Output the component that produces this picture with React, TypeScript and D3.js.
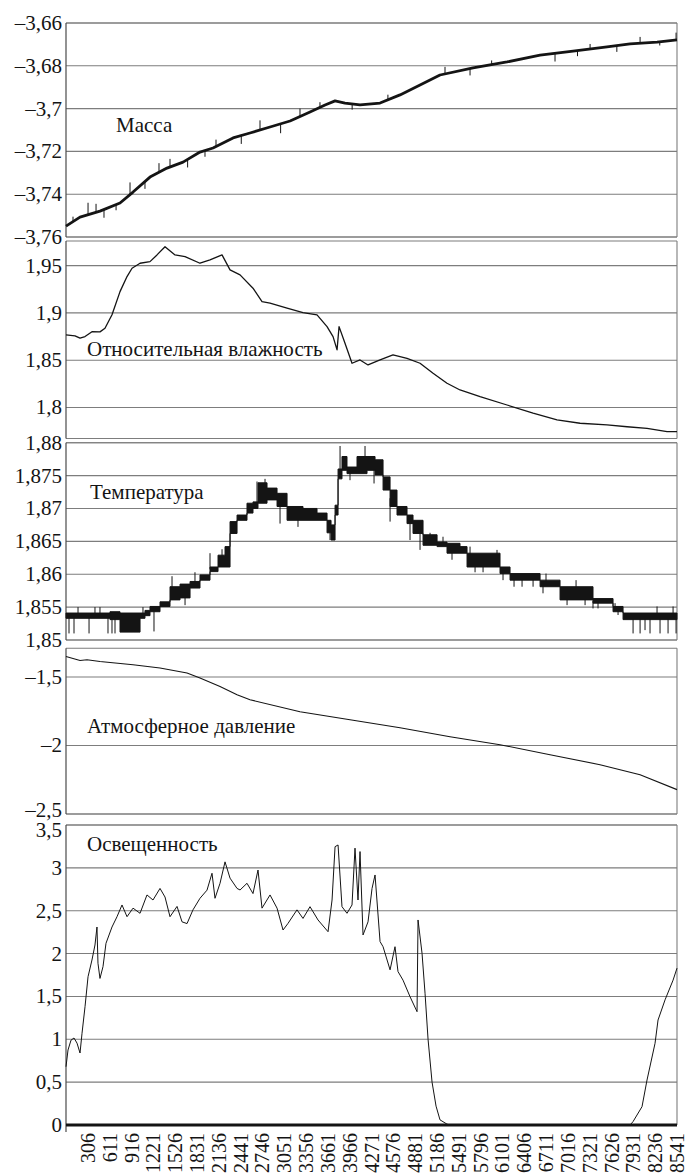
import * as d3 from 'd3';

// sample index (x) runs 0..8541
const X_MAX = 8541;
const xTickLabels = [306, 611, 916, 1221, 1526, 1831, 2136, 2441, 2746, 3051, 3356, 3661, 3966, 4271,
  4576, 4881, 5186, 5491, 5796, 6101, 6406, 6711, 7016, 7321, 7626, 7931, 8236, 8541];

// Масса
const massTicks = [-3.76, -3.74, -3.72, -3.7, -3.68, -3.66];
const massT = [0, 196, 475, 755, 937, 1174, 1412, 1636, 1873, 2055, 2335, 2572, 2852, 3132, 3411, 3621,
  3761, 3900, 4110, 4390, 4669, 4949, 5228, 5690, 6165, 6627, 7088, 7563, 7885, 8262, 8541];
const massV = [-3.7549, -3.7507, -3.7479, -3.7441, -3.739, -3.732, -3.7278, -3.725, -3.7203, -3.7184,
  -3.7137, -3.7114, -3.7086, -3.7058, -3.7016, -3.6983, -3.6964, -3.6974, -3.6983, -3.6974, -3.6936,
  -3.689, -3.6843, -3.681, -3.6782, -3.675, -3.6731, -3.6712, -3.6698, -3.6689, -3.6679];
const massSpikeT = [98, 308, 420, 531, 700, 895, 1104, 1300, 1454, 1700, 1943, 2097, 2450, 2712, 3000,
  3271, 3550, 4000, 4500, 5298, 5648, 5950, 6347, 6836, 7150, 7326, 7700, 8025, 8300, 8528];
const massSpikeV = [-3.7505, -3.744, -3.7445, -3.751, -3.7475, -3.7345, -3.7375, -3.7255, -3.7235,
  -3.7275, -3.7225, -3.7145, -3.7165, -3.7055, -3.7115, -3.7, -3.697, -3.7005, -3.6935, -3.6805,
  -3.6845, -3.6775, -3.6765, -3.678, -3.6755, -3.6698, -3.6735, -3.6665, -3.6705, -3.6645];

// Относительная влажность
const humTicks = [1.8, 1.85, 1.9, 1.95];
const humT = [0, 126, 196, 266, 363, 475, 545, 643, 755, 853, 923, 1035, 1174, 1272, 1384, 1524, 1664,
  1873, 2013, 2181, 2293, 2433, 2614, 2740, 2852, 3090, 3313, 3509, 3649, 3733, 3789, 3817, 3900, 3998,
  4110, 4222, 4390, 4571, 4767, 4949, 5131, 5326, 5508, 5788, 6165, 6529, 6864, 7186, 7563, 7843, 8122,
  8402, 8541];
const humV = [1.8767, 1.8757, 1.8733, 1.875, 1.8802, 1.88, 1.8838, 1.898, 1.9225, 1.9384, 1.9472, 1.9525,
  1.9542, 1.9613, 1.97, 1.9613, 1.9595, 1.9525, 1.956, 1.9613, 1.9455, 1.9402, 1.9261, 1.912, 1.9103,
  1.905, 1.9003, 1.8979, 1.8855, 1.875, 1.8609, 1.8855, 1.868, 1.8468, 1.8503, 1.845, 1.8503, 1.8556,
  1.852, 1.8468, 1.8363, 1.8257, 1.8186, 1.8115, 1.8027, 1.794, 1.7869, 1.7834, 1.7816, 1.7797, 1.778,
  1.7745, 1.7745];

// Температура
const tempTicks = [1.85, 1.855, 1.86, 1.865, 1.87, 1.875, 1.88];
const tempT = [0, 336, 615, 755, 937, 1035, 1104, 1174, 1314, 1454, 1594, 1734, 1873, 2013, 2125, 2223,
  2293, 2391, 2530, 2614, 2684, 2810, 2950, 3090, 3313, 3509, 3649, 3705, 3761, 3803, 3858, 3928, 4068,
  4208, 4320, 4432, 4530, 4627, 4767, 4851, 4991, 5187, 5326, 5508, 5606, 6067, 6207, 6627, 6906, 7367,
  7647, 7787, 8541];
const tempLo = [1.8533, 1.8533, 1.8531, 1.8512, 1.8512, 1.8533, 1.8537, 1.8543, 1.8551, 1.8561, 1.8564,
  1.8579, 1.8591, 1.8604, 1.8611, 1.8611, 1.8662, 1.8682, 1.8693, 1.87, 1.8708, 1.8713, 1.8703, 1.8682,
  1.8682, 1.8682, 1.8663, 1.8652, 1.869, 1.8745, 1.8758, 1.8753, 1.8753, 1.8758, 1.8751, 1.8728, 1.8703,
  1.869, 1.8677, 1.8662, 1.8644, 1.8642, 1.8632, 1.8632, 1.8611, 1.8601, 1.8591, 1.8581, 1.8561, 1.8556,
  1.8543, 1.8531, 1.8531];
const tempHi = [1.8541, 1.8541, 1.8543, 1.8541, 1.8541, 1.8541, 1.8545, 1.8551, 1.8558, 1.8581, 1.8585,
  1.8589, 1.8599, 1.8611, 1.8629, 1.8642, 1.868, 1.869, 1.8708, 1.871, 1.8739, 1.8731, 1.8723, 1.8703,
  1.87, 1.8693, 1.8682, 1.8675, 1.8705, 1.876, 1.8779, 1.8763, 1.8779, 1.8779, 1.8774, 1.8748, 1.8728,
  1.8703, 1.869, 1.8682, 1.866, 1.8649, 1.8647, 1.8642, 1.8632, 1.8611, 1.8601, 1.8591, 1.8581, 1.8563,
  1.8551, 1.8541, 1.8541];
const tempSpikeT = [42, 112, 168, 322, 405, 475, 587, 643, 685, 1076, 1230, 1482, 1664, 1803, 2013, 2181,
  2670, 2782, 2992, 3243, 3691, 3831, 3970, 4180, 4306, 4530, 4809, 4949, 5089, 5270, 5396, 5648, 5718,
  5830, 6025, 6109, 6263, 6375, 6529, 6668, 6710, 7004, 7130, 7256, 7367, 7437, 7675, 7717, 7927, 8025,
  8094, 8164, 8262, 8304, 8416, 8486, 8528];
const tempSpikeV = [1.851, 1.851, 1.855, 1.851, 1.855, 1.855, 1.851, 1.851, 1.851, 1.855, 1.8513, 1.8597,
  1.8553, 1.8603, 1.8632, 1.8638, 1.8741, 1.8745, 1.8677, 1.8672, 1.8652, 1.8795, 1.8743, 1.8795, 1.8738,
  1.868, 1.8652, 1.8637, 1.8663, 1.8657, 1.8622, 1.8642, 1.8603, 1.8603, 1.8637, 1.8591, 1.8581, 1.8581,
  1.8581, 1.8571, 1.8601, 1.8553, 1.8591, 1.8553, 1.8548, 1.8548, 1.8556, 1.8538, 1.851, 1.851, 1.8515,
  1.851, 1.8551, 1.851, 1.851, 1.8551, 1.851];

// Атмосферное давление
const presTicks = [-2.5, -2, -1.5];
const presT = [0, 196, 294, 475, 937, 1314, 1692, 1873, 2153, 2391, 2572, 3271, 3970, 4669, 5368, 6067,
  6766, 7465, 8025, 8541];
const presV = [-1.3496, -1.379, -1.3737, -1.386, -1.41, -1.4343, -1.4708, -1.5073, -1.5686, -1.629,
  -1.6657, -1.7533, -1.8117, -1.87, -1.9358, -1.994, -2.067, -2.14, -2.213, -2.322];

// Освещенность
const lightTicks = [0, 0.5, 1, 1.5, 2, 2.5, 3, 3.5];
const lightT = [0, 28, 70, 112, 154, 196, 224, 266, 308, 363, 405, 433, 447, 475, 517, 559, 643, 713,
  783, 853, 937, 1035, 1132, 1216, 1314, 1384, 1454, 1552, 1622, 1692, 1775, 1873, 1971, 2041, 2083,
  2153, 2223, 2293, 2391, 2433, 2530, 2614, 2684, 2740, 2852, 2950, 3034, 3104, 3229, 3313, 3411, 3523,
  3663, 3719, 3761, 3803, 3858, 3928, 3998, 4040, 4082, 4110, 4152, 4222, 4278, 4320, 4390, 4432, 4530,
  4599, 4641, 4711, 4809, 4907, 4921, 4977, 5019, 5061, 5117, 5173, 5228, 5326, 5368, 7885, 7927, 8052,
  8122, 8234, 8276, 8374, 8486, 8541];
const lightV = [0.68, 0.875, 0.99, 1.015, 0.955, 0.84, 1.07, 1.38, 1.73, 1.925, 2.1, 2.31, 1.887, 1.71,
  1.847, 2.12, 2.31, 2.43, 2.567, 2.43, 2.53, 2.47, 2.684, 2.625, 2.76, 2.66, 2.43, 2.55, 2.37, 2.35, 2.51,
  2.645, 2.74, 2.937, 2.645, 2.82, 3.07, 2.88, 2.76, 2.742, 2.82, 2.7, 2.975, 2.53, 2.684, 2.53, 2.275,
  2.353, 2.51, 2.41, 2.547, 2.392, 2.255, 2.625, 3.247, 3.267, 2.547, 2.47, 2.567, 3.23, 2.625, 3.19,
  2.217, 2.37, 2.76, 2.917, 2.14, 2.08, 1.81, 2.08, 1.79, 1.69, 1.497, 1.322, 2.392, 2.003, 1.537, 1.0,
  0.5, 0.22, 0.06, 0.01, 0, 0, 0.04, 0.214, 0.525, 0.953, 1.225, 1.46, 1.69, 1.83];

const FONT = 'Liberation Serif';
const LEFT = 66;
const RIGHT = 677;
const GRID = '#7d7d7d';
const INK = '#141414';

const fmt = (v: number) => (v < 0 ? '\u2013' : '') + String(Math.abs(v)).replace('.', ',');

const zip = (t: number[], v: number[]) => t.map((d, i) => [d, v[i]] as [number, number]);

export default function App() {
  const x = d3.scaleLinear().domain([0, X_MAX]).range([LEFT, RIGHT]);

  // labelNudge: [value, px] – labels pushed off a crowded panel edge
  const panels = [
    { key: 'mass', title: 'Масса', tx: 116, ty: 132, top: 23, bottom: 237, domain: [-3.76, -3.66], ticks: massTicks, nudge: {} as Record<number, number> },
    { key: 'hum', title: 'Относительная влажность', tx: 87, ty: 356, top: 241, bottom: 438.5, domain: [1.7673, 1.976], ticks: humTicks, nudge: {} },
    { key: 'temp', title: 'Температура', tx: 90, ty: 499, top: 442.7, bottom: 640, domain: [1.85, 1.88], ticks: tempTicks, nudge: {} },
    { key: 'pres', title: 'Атмосферное давление', tx: 87, ty: 733, top: 648.3, bottom: 814, domain: [-2.5, -1.29], ticks: presTicks, nudge: { [-2.5]: -4 } },
    { key: 'light', title: 'Освещенность', tx: 87, ty: 851, top: 825, bottom: 1125, domain: [0, 3.5], ticks: lightTicks, nudge: { [3.5]: 5 } },
  ];
  const ys = Object.fromEntries(
    panels.map((p) => [p.key, d3.scaleLinear().domain(p.domain).range([p.bottom, p.top])])
  ) as Record<string, d3.ScaleLinear<number, number>>;

  const lineOf = (key: string) =>
    d3.line<[number, number]>().x((d) => x(d[0])).y((d) => ys[key](d[1]));

  const massData = zip(massT, massV);
  const massAt = (t: number) => {
    const i = Math.min(d3.bisectRight(massT, t), massT.length - 1);
    const i0 = Math.max(i - 1, 0);
    const f = massT[i] === massT[i0] ? 0 : (t - massT[i0]) / (massT[i] - massT[i0]);
    return massV[i0] + (massV[i] - massV[i0]) * f;
  };

  const tempBand = d3
    .area<number>()
    .x((i) => x(tempT[i]))
    .y0((i) => ys.temp(tempLo[i]))
    .y1((i) => ys.temp(tempHi[i]))
    .curve(d3.curveStepAfter);
  const tempAt = (t: number) => {
    const i = Math.max(d3.bisectRight(tempT, t) - 1, 0);
    return (tempLo[i] + tempHi[i]) / 2;
  };

  return (
    <div style={{ position: 'absolute', left: 0, top: 0, background: '#fff' }}>
      <svg width={685} height={1176} style={{ display: 'block' }}>
        <rect width={685} height={1176} fill="#fff" />
        {panels.map((p) => {
          const y = ys[p.key];
          const nudge = p.nudge as Record<number, number>;
          return (
            <g key={p.key}>
              {p.ticks.map((t) => (
                <line key={t} x1={LEFT} x2={RIGHT} y1={y(t)} y2={y(t)} stroke={GRID} strokeWidth={1.1} />
              ))}
              <line x1={LEFT} x2={RIGHT} y1={p.top} y2={p.top} stroke={GRID} strokeWidth={1.1} />
              <line x1={LEFT} x2={RIGHT} y1={p.bottom} y2={p.bottom} stroke={GRID} strokeWidth={1.1} />
              <line x1={RIGHT} x2={RIGHT} y1={p.top} y2={p.bottom} stroke={GRID} strokeWidth={1.1} />
              <line x1={LEFT} x2={LEFT} y1={p.top} y2={p.key === 'light' ? 1132 : p.bottom} stroke="#4a4a4a" strokeWidth={1.2} />
              {p.ticks.map((t) => (
                <text key={'l' + t} x={62} y={y(t) + (nudge[t] ?? 0)} dy="0.33em" textAnchor="end" fontSize={21} fill={INK} fontFamily={FONT}>
                  {fmt(t)}
                </text>
              ))}
            </g>
          );
        })}

        {/* Масса */}
        {massSpikeT.map((t, i) => (
          <line key={'ms' + i} x1={x(t)} x2={x(t)} y1={ys.mass(massAt(t))} y2={ys.mass(massSpikeV[i])} stroke={INK} strokeWidth={1} />
        ))}
        <path d={lineOf('mass')(massData) ?? ''} fill="none" stroke={INK} strokeWidth={2.8} strokeLinejoin="round" />

        {/* Относительная влажность */}
        <path d={lineOf('hum')(zip(humT, humV)) ?? ''} fill="none" stroke={INK} strokeWidth={1.3} strokeLinejoin="round" />

        {/* Температура */}
        {tempSpikeT.map((t, i) => (
          <line key={'ts' + i} x1={x(t)} x2={x(t)} y1={ys.temp(tempAt(t))} y2={ys.temp(tempSpikeV[i])} stroke={INK} strokeWidth={1} />
        ))}
        <path d={tempBand(d3.range(tempT.length)) ?? ''} fill={INK} stroke={INK} strokeWidth={1} />

        {/* Атмосферное давление */}
        <path d={lineOf('pres')(zip(presT, presV)) ?? ''} fill="none" stroke={INK} strokeWidth={1.1} />

        {/* Освещенность */}
        <path d={lineOf('light')(zip(lightT, lightV)) ?? ''} fill="none" stroke={INK} strokeWidth={1} strokeLinejoin="round" />
        <line x1={LEFT} x2={RIGHT} y1={ys.light(0)} y2={ys.light(0)} stroke={INK} strokeWidth={3.2} />

        {panels.map((p) => (
          <text key={'t' + p.key} x={p.tx} y={p.ty} fontSize={21} fill={INK} fontFamily={FONT}>
            {p.title}
          </text>
        ))}

        {xTickLabels.map((t) => (
          <text
            key={'x' + t}
            transform={`translate(${x(t)},1133) rotate(-90)`}
            dy="0.35em"
            textAnchor="end"
            fontSize={20}
            fill={INK}
            fontFamily={FONT}
          >
            {t}
          </text>
        ))}
      </svg>
    </div>
  );
}
